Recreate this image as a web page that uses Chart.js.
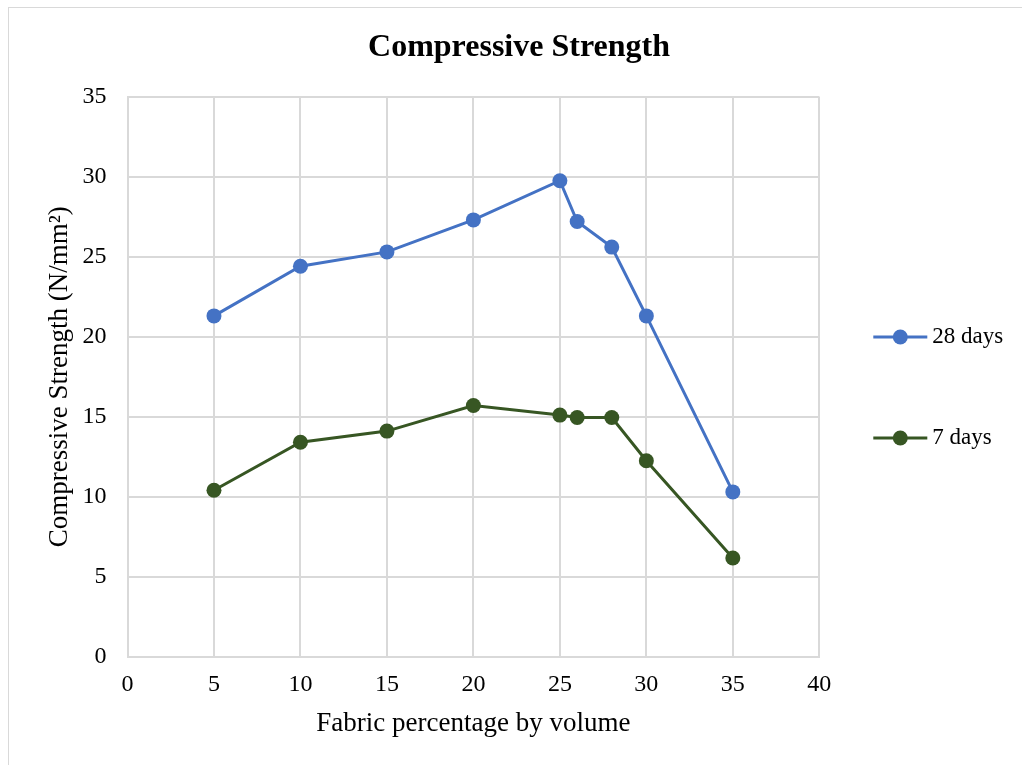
<!DOCTYPE html>
<html>
<head>
<meta charset="utf-8">
<script src="https://cdn.jsdelivr.net/npm/chart.js@4/dist/chart.umd.min.js"></script>
<style>
  html, body { margin: 0; padding: 0; background: #ffffff; }
  #wrap { width: 1022px; height: 765px; }
</style>
</head>
<body>
<div id="wrap"><canvas id="chart" width="1022" height="765"></canvas></div>
<script>
// Fabric content (% by volume) and measured compressive strengths (N/mm²)
const fabricPercent = [5, 10, 15, 20, 25, 26, 28, 30, 35];
const strength28Days = [21.3, 24.4, 25.3, 27.3, 29.75, 27.2, 25.6, 21.3, 10.3];
const strength7Days = [10.4, 13.4, 14.1, 15.7, 15.1, 14.95, 14.95, 12.25, 6.17];
const seriesNames = ['28 days', '7 days'];
const seriesColors = ['#4472C4', '#375623'];

const xTicks = [0, 5, 10, 15, 20, 25, 30, 35, 40];
const yTicks = [0, 5, 10, 15, 20, 25, 30, 35];

const serif = '"Liberation Serif", "Times New Roman", serif';

const toPoints = (xs, ys) => xs.map((x, i) => ({ x: x, y: ys[i] }));

// Outer frame around the whole chart
const framePlugin = {
  id: 'frame',
  beforeDraw(chart) {
    const ctx = chart.ctx;
    ctx.save();
    ctx.fillStyle = '#ffffff';
    ctx.fillRect(0, 0, chart.width, chart.height);
    ctx.strokeStyle = '#d9d9d9';
    ctx.lineWidth = 1;
    ctx.strokeRect(8.5, 7.5, chart.width + 20, chart.height + 20);
    ctx.restore();
  }
};

// Legend entries: line with a marker, label to the right
const lineLegendPlugin = {
  id: 'lineLegend',
  afterDraw(chart) {
    const ctx = chart.ctx;
    const area = chart.chartArea;
    const x0 = area.right + 54;
    const rows = [337, 438];
    ctx.save();
    chart.data.datasets.forEach((ds, i) => {
      const y = rows[i];
      ctx.strokeStyle = ds.borderColor;
      ctx.lineWidth = ds.borderWidth;
      ctx.beginPath();
      ctx.moveTo(x0, y);
      ctx.lineTo(x0 + 54, y);
      ctx.stroke();
      ctx.fillStyle = ds.pointBackgroundColor;
      ctx.beginPath();
      ctx.arc(x0 + 27, y, ds.pointRadius, 0, Math.PI * 2);
      ctx.fill();
      ctx.fillStyle = '#000000';
      ctx.font = '23px ' + serif;
      ctx.textBaseline = 'middle';
      ctx.textAlign = 'left';
      ctx.fillText(ds.label, x0 + 59, y);
    });
    ctx.restore();
  }
};

const gridColor = '#d9d9d9';

new Chart(document.getElementById('chart'), {
  type: 'scatter',
  data: {
    datasets: [
      {
        label: seriesNames[0],
        data: toPoints(fabricPercent, strength28Days),
        showLine: true,
        borderColor: seriesColors[0],
        backgroundColor: seriesColors[0],
        pointBackgroundColor: seriesColors[0],
        pointBorderColor: seriesColors[0],
        borderWidth: 3,
        pointRadius: 7.5,
        pointBorderWidth: 0,
        tension: 0
      },
      {
        label: seriesNames[1],
        data: toPoints(fabricPercent, strength7Days),
        showLine: true,
        borderColor: seriesColors[1],
        backgroundColor: seriesColors[1],
        pointBackgroundColor: seriesColors[1],
        pointBorderColor: seriesColors[1],
        borderWidth: 3,
        pointRadius: 7.5,
        pointBorderWidth: 0,
        tension: 0
      }
    ]
  },
  options: {
    responsive: false,
    devicePixelRatio: 1,
    animation: false,
    layout: { padding: { left: 16, right: 0, top: 0, bottom: 0 } },
    plugins: {
      legend: { display: false },
      tooltip: { enabled: false },
      title: {
        display: true,
        text: 'Compressive Strength',
        color: '#000000',
        font: { family: serif, size: 32, weight: 'bold', lineHeight: 1.2 },
        padding: { top: 28.5, bottom: 29.8 }
      }
    },
    scales: {
      x: {
        type: 'linear',
        min: 0,
        max: 40,
        afterBuildTicks: (scale) => { scale.ticks = xTicks.map(v => ({ value: v })); },
        afterFit: (scale) => { scale.height = 108.3; },
        grid: { color: gridColor, lineWidth: 2, drawTicks: false },
        border: { color: gridColor, width: 2 },
        ticks: {
          color: '#000000',
          font: { family: serif, size: 24 },
          padding: 14,
          maxRotation: 0
        },
        title: {
          display: true,
          text: 'Fabric percentage by volume',
          color: '#000000',
          font: { family: serif, size: 27, lineHeight: 1.2 },
          padding: { top: 0, bottom: 24.5 }
        }
      },
      y: {
        type: 'linear',
        position: 'left',
        min: 0,
        max: 35,
        afterBuildTicks: (scale) => { scale.ticks = yTicks.map(v => ({ value: v })); },
        afterFit: (scale) => { scale.width = 111.5; },
        grid: { color: gridColor, lineWidth: 2, drawTicks: false },
        border: { color: gridColor, width: 2 },
        ticks: {
          color: '#000000',
          font: { family: serif, size: 24 },
          padding: 21
        },
        title: {
          display: true,
          text: 'Compressive Strength (N/mm²)',
          color: '#000000',
          font: { family: serif, size: 27, lineHeight: 1.2 },
          padding: { top: 27.8, bottom: 0 }
        }
      },
      legendSpace: {
        type: 'linear',
        position: 'right',
        display: true,
        min: 0,
        max: 1,
        afterFit: (scale) => { scale.width = 202.7; },
        grid: { display: false, drawTicks: false },
        border: { display: false },
        ticks: { display: false }
      }
    }
  },
  plugins: [framePlugin, lineLegendPlugin]
});
</script>
</body>
</html>
